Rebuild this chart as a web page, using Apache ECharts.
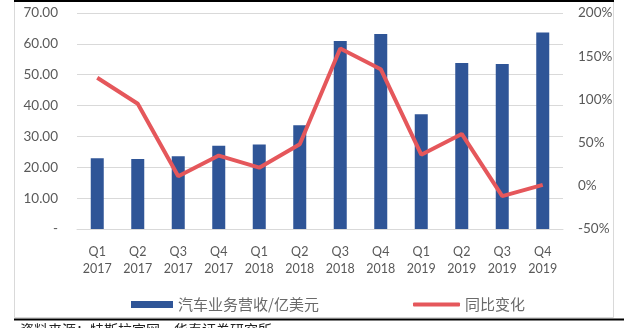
<!DOCTYPE html>
<html>
<head>
<meta charset="utf-8">
<script src="https://cdn.jsdelivr.net/npm/echarts@6/dist/echarts.min.js"></script>
<style>
html,body{margin:0;padding:0;background:#fff;}
#c{width:631px;height:328px;}
</style>
</head>
<body>
<div id="c"></div>
<script>
var categories = ['Q1\n2017','Q2\n2017','Q3\n2017','Q4\n2017','Q1\n2018','Q2\n2018','Q3\n2018','Q4\n2018','Q1\n2019','Q2\n2019','Q3\n2019','Q4\n2019'];
var revenue = [22.9, 22.7, 23.6, 27.0, 27.4, 33.6, 60.9, 63.2, 37.2, 53.8, 53.5, 63.7];
var yoy = [125, 95, 11, 35, 21, 48, 159, 135, 36, 60, -12, 1];
var barName = '汽车业务营收/亿美元';
var lineName = '同比变化';
var sourceText = '资料来源：特斯拉官网，华泰证券研究所';

var chart = echarts.init(document.getElementById('c'));
var numFont = 'Lato';
var grayText = '#595959';
chart.setOption({
  animation: false,
  backgroundColor: '#fff',
  grid: {left: 77, right: 68, top: 13, bottom: 99},
  legend: [
    {data: [barName], left: 126, top: 292, itemWidth: 42, itemHeight: 7, icon: 'rect',
     textStyle: {fontFamily: 'Noto Sans CJK SC', fontSize: 15, color: '#6a6a6a'}},
    {data: [lineName], left: 408, top: 292, itemWidth: 47, itemHeight: 4, icon: 'roundRect',
     textStyle: {fontFamily: 'Noto Sans CJK SC', fontSize: 15, color: '#6a6a6a'}}
  ],
  xAxis: {
    type: 'category',
    data: categories,
    axisLine: {lineStyle: {color: '#d9d9d9', width: 1}},
    axisTick: {show: false},
    axisLabel: {color: grayText, fontFamily: numFont, fontSize: 12.5, lineHeight: 17, margin: 14, interval: 0}
  },
  yAxis: [
    {type: 'value', min: 0, max: 70, interval: 10,
     axisLine: {show: false}, axisTick: {show: false},
     splitLine: {lineStyle: {color: '#d9d9d9', width: 1}},
     axisLabel: {color: grayText, fontFamily: numFont, fontSize: 13.5, margin: 19,
       formatter: function(v){ return v === 0 ? '-' : v.toFixed(2); }}},
    {type: 'value', min: -50, max: 200, interval: 50,
     axisLine: {show: false}, axisTick: {show: false}, splitLine: {show: false},
     axisLabel: {color: grayText, fontFamily: numFont, fontSize: 13.5, margin: 15,
       formatter: function(v){ return v + '%'; }}}
  ],
  series: [
    {name: barName, type: 'bar', data: revenue, yAxisIndex: 0, barWidth: 13,
     itemStyle: {color: '#2f5597'}},
    {name: lineName, type: 'line', data: yoy, yAxisIndex: 1, symbol: 'none',
     lineStyle: {color: '#e5575b', width: 4}, itemStyle: {color: '#e5575b'}}
  ],
  graphic: [
    {type: 'rect', shape: {x: 14.5, y: 1.5, width: 599, height: 316}, style: {fill: 'none', stroke: '#d9d9d9', lineWidth: 1}, silent: true},
    {type: 'rect', shape: {x: 14, y: 0, width: 600, height: 2}, style: {fill: '#000'}, silent: true},
    {type: 'rect', shape: {x: 14, y: 318.5, width: 610, height: 2}, style: {fill: '#000'}, silent: true},
    {type: 'text', left: 20, top: 323, style: {text: sourceText, fill: '#222', font: '14px "Noto Sans CJK SC"'}, silent: true}
  ]
});
</script>
</body>
</html>
